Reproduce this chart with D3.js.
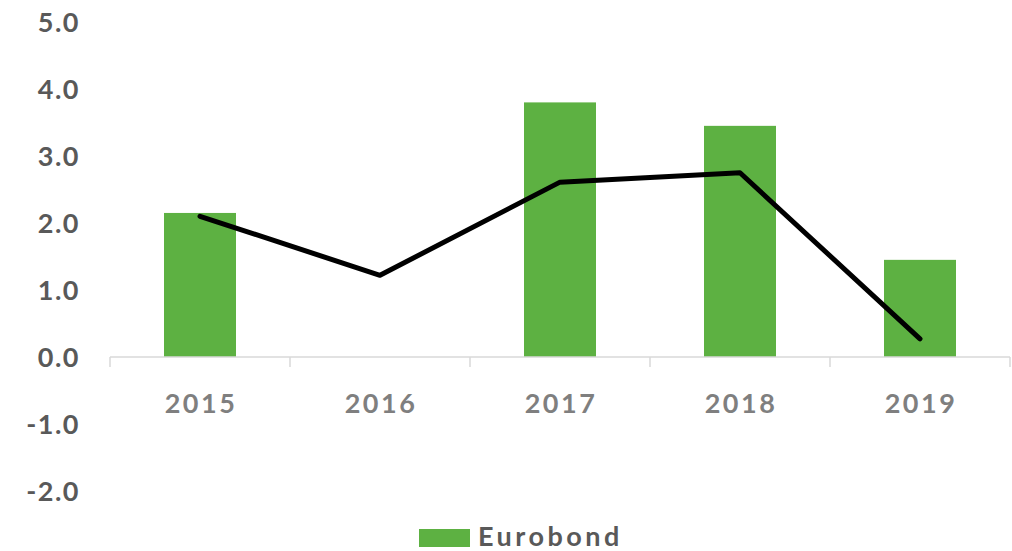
<!DOCTYPE html>
<html lang="en">
<head>
	<meta charset="utf-8">
	<title>Eurobond</title>
	<script src="https://d3js.org/d3.v7.min.js"></script>
	<style>
		body { margin: 0; background: #fff; font-family: "Lato", "Open Sans", sans-serif; }
		svg text { font-weight: 700; }
	</style>
</head>
<body>
	<script>
		// chart data
		var years = ["2015", "2016", "2017", "2018", "2019"];
		var eurobond = [2.15, 0, 3.8, 3.45, 1.45];
		var lineValues = [2.1, 1.22, 2.61, 2.75, 0.27];
		var yTicks = [-2, -1, 0, 1, 2, 3, 4, 5];

		var width = 1012;
		var height = 551;

		var svg = d3.select("body")
			.append("svg")
			.attr("width", width)
			.attr("height", height);

		var x = d3.scaleBand()
			.domain(years)
			.range([110, 1010]);

		var y = d3.scaleLinear()
			.domain([-2, 5])
			.range([491, 22]);

		// y tick labels (plain hyphen for negatives, like the original)
		svg.selectAll(".ylab")
			.data(yTicks)
			.enter()
			.append("text")
			.attr("class", "ylab")
			.attr("x", 80)
			.attr("y", function(d) { return y(d); })
			.attr("dy", "0.36em")
			.attr("text-anchor", "end")
			.attr("fill", "#595959")
			.style("font-size", "27px")
			.style("letter-spacing", "1.5px")
			.text(function(d) { return d.toFixed(1); });

		// bars
		svg.selectAll(".bar")
			.data(eurobond)
			.enter()
			.append("rect")
			.attr("class", "bar")
			.attr("x", function(d, i) { return x(years[i]) + x.bandwidth() * 0.3; })
			.attr("width", x.bandwidth() * 0.4)
			.attr("y", function(d) { return y(Math.max(d, 0)); })
			.attr("height", function(d) { return Math.abs(y(d) - y(0)); })
			.attr("fill", "#5db142");

		// category axis at zero
		var axis = svg.append("g")
			.attr("transform", "translate(0," + y(0) + ")");
		axis.append("line")
			.attr("x1", 110).attr("x2", 1010)
			.attr("stroke", "#d9d9d9").attr("stroke-width", 1.5);
		var tickX = years.map(function(d) { return x(d); }).concat([x.range()[1]]);
		axis.selectAll(".tick")
			.data(tickX)
			.enter()
			.append("line")
			.attr("x1", function(d) { return d; })
			.attr("x2", function(d) { return d; })
			.attr("y1", 0).attr("y2", 10)
			.attr("stroke", "#d9d9d9").attr("stroke-width", 1.5);
		axis.selectAll(".xlab")
			.data(years)
			.enter()
			.append("text")
			.attr("class", "xlab")
			.attr("x", function(d) { return x(d) + x.bandwidth() / 2 + 1; })
			.attr("y", 56)
			.attr("text-anchor", "middle")
			.attr("fill", "#7f7f7f")
			.style("font-size", "27px")
			.style("letter-spacing", "2.5px")
			.text(function(d) { return d; });

		// line
		var line = d3.line()
			.x(function(d, i) { return x(years[i]) + x.bandwidth() / 2; })
			.y(function(d) { return y(d); });
		svg.append("path")
			.datum(lineValues)
			.attr("d", line)
			.attr("fill", "none")
			.attr("stroke", "#000")
			.attr("stroke-width", 5)
			.attr("stroke-linecap", "round")
			.attr("stroke-linejoin", "round");

		// legend
		var legend = svg.append("g").attr("transform", "translate(419,529)");
		legend.append("rect")
			.attr("width", 51).attr("height", 18)
			.attr("fill", "#5db142");
		legend.append("text")
			.attr("x", 59).attr("y", 17)
			.attr("fill", "#595959")
			.style("font-size", "27px")
			.style("letter-spacing", "3.5px")
			.text("Eurobond");
	</script>
</body>
</html>
